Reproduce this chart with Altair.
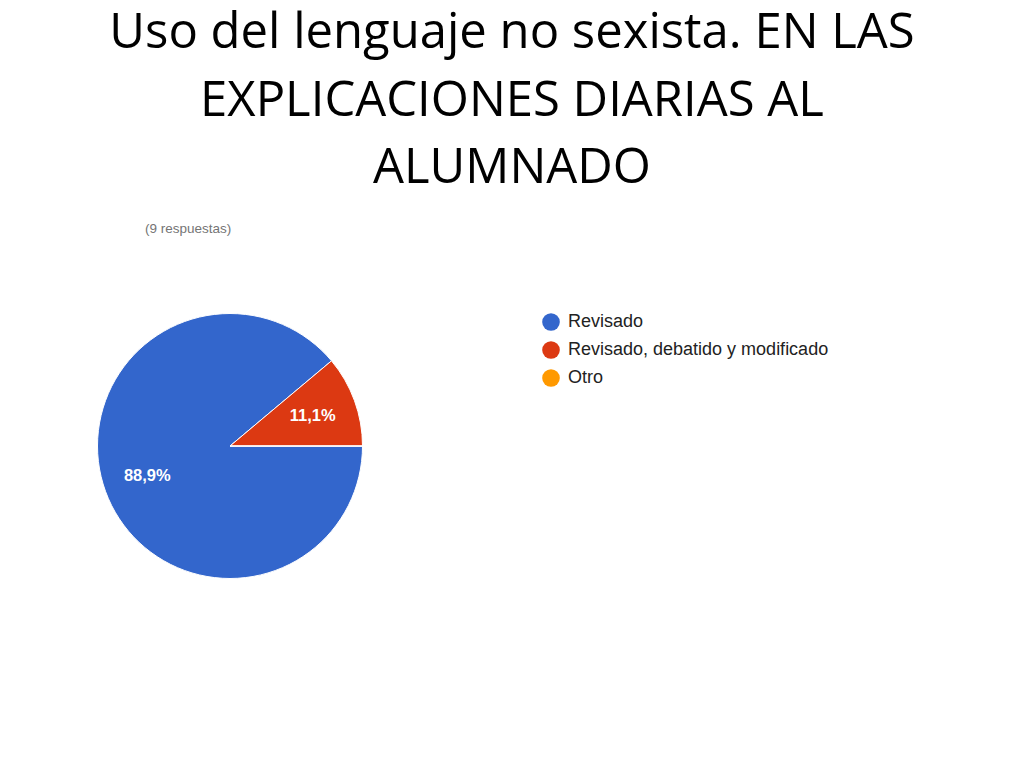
import altair as alt
import pandas as pd

title_lines = ["Uso del lenguaje no sexista. EN LAS", "EXPLICACIONES DIARIAS AL", "ALUMNADO"]
subtitle = "(9 respuestas)"
categories = ["Revisado", "Revisado, debatido y modificado", "Otro"]
counts = [8, 1, 0]
colors = ["#3366CC", "#DC3912", "#FF9900"]

total = sum(counts)
df = pd.DataFrame({
    "cat": categories,
    "n": counts,
    "ord": list(range(len(categories))),
    "label": [(f"{c / total * 100:.1f}%".replace(".", ",") if c > 0 else "") for c in counts],
})
tdf = pd.DataFrame({"line": title_lines, "i": list(range(len(title_lines)))})

W, H = 1008, 752
CX, CY, R = 222, 438, 132.5

color = alt.Color("cat:N", sort=categories,
                  scale=alt.Scale(domain=categories, range=colors),
                  legend=alt.Legend(title=None, orient="none", legendX=534, legendY=305,
                                    symbolType="circle", symbolSize=310, symbolStrokeWidth=0,
                                    labelFontSize=18, labelFont="Liberation Sans", labelColor="#222222",
                                    rowPadding=10, labelOffset=8, labelLimit=400))
theta = alt.Theta("n:Q", stack=True,
                  scale=alt.Scale(range=[3.14159265 / 2, 3.14159265 / 2 + 2 * 3.14159265]))

base = alt.Chart(df)
pie = base.mark_arc(stroke="white", strokeWidth=1).encode(
    theta=theta, color=color, order=alt.Order("ord:Q"),
    x=alt.value(CX), y=alt.value(CY), radius=alt.value(R),
)
labels = base.transform_filter("datum.n > 0").mark_text(
    color="white", fontSize=16.5, font="Liberation Sans", fontWeight="bold"
).encode(
    theta=theta, order=alt.Order("ord:Q"), text="label:N",
    x=alt.value(CX), y=alt.value(CY), radius=alt.value(88),
)
title = alt.Chart(tdf).mark_text(
    font="Open Sans", fontSize=49, color="black", align="center", baseline="alphabetic"
).encode(
    text="line:N",
    x=alt.value(W / 2),
    y=alt.Y("i:Q", scale=alt.Scale(domain=[0, 2], range=[40, 175]), axis=None),
)
sub = alt.Chart(pd.DataFrame({"t": [subtitle]})).mark_text(
    font="Liberation Sans", fontSize=13.5, color="#757575", align="left", baseline="middle"
).encode(text="t:N", x=alt.value(137), y=alt.value(221))

chart = alt.layer(pie, labels, title, sub).resolve_scale(y="independent").properties(
    width=W, height=H, autosize=alt.AutoSizeParams(type="none"), padding=0
).configure_view(stroke=None)

chart.save("out.html", embed_options={"renderer": "svg", "actions": False})
